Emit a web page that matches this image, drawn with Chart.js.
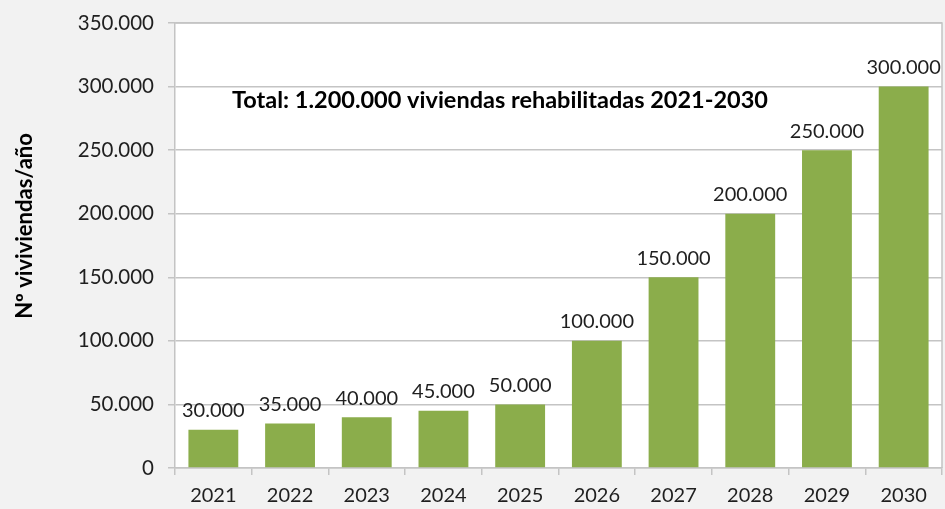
<!DOCTYPE html>
<html>
<head>
<meta charset="utf-8">
<script src="https://cdn.jsdelivr.net/npm/chart.js@4"></script>
<style>
  html, body { margin: 0; padding: 0; background: #f2f2f2; }
  #wrap { width: 945px; height: 509px; }
</style>
</head>
<body>
<div id="wrap"><canvas id="chart" width="945" height="509"></canvas></div>
<script>
// Chart data
const years = ['2021', '2022', '2023', '2024', '2025', '2026', '2027', '2028', '2029', '2030'];
const viviendas = [30000, 35000, 40000, 45000, 50000, 100000, 150000, 200000, 250000, 300000];
const yTicks = [0, 50000, 100000, 150000, 200000, 250000, 300000, 350000];
const yTitle = 'Nº viviviendas/año';
const totalNote = 'Total: 1.200.000 viviendas rehabilitadas 2021-2030';

const FONT = 'Lato, "Open Sans", sans-serif';
const GRID = '#c4c4c4';
const TEXT = '#1f1f1f';

function fmt(v) {
    return String(v).replace(/\B(?=(\d{3})+(?!\d))/g, '.');
}

// paints gray page and white plot area, plus the top/right frame
const backdrop = {
    id: 'backdrop',
    beforeDraw(chart) {
        const { ctx, chartArea: a } = chart;
        ctx.save();
        ctx.fillStyle = '#f2f2f2';
        ctx.fillRect(0, 0, chart.width, chart.height);
        ctx.fillStyle = '#ffffff';
        ctx.fillRect(a.left, a.top, a.right - a.left, a.bottom - a.top);
        ctx.restore();
    },
    afterDraw(chart) {
        const { ctx, chartArea: a } = chart;
        ctx.save();
        ctx.strokeStyle = GRID;
        ctx.lineWidth = 1.5;
        ctx.beginPath();
        ctx.moveTo(a.left, a.top);
        ctx.lineTo(a.right, a.top);
        ctx.lineTo(a.right, a.bottom);
        ctx.stroke();
        ctx.restore();
    }
};

// value labels above bars, the note and the y title
const labels = {
    id: 'labels',
    afterDatasetsDraw(chart) {
        const { ctx } = chart;
        const meta = chart.getDatasetMeta(0);
        ctx.save();
        ctx.fillStyle = TEXT;
        ctx.font = '20px ' + FONT;
        ctx.textAlign = 'center';
        ctx.textBaseline = 'bottom';
        meta.data.forEach((bar, i) => {
            ctx.fillText(fmt(viviendas[i]), bar.x, bar.y - 9);
        });

        const y = chart.scales.y;
        ctx.font = 'bold 23.5px ' + FONT;
        ctx.textBaseline = 'middle';
        ctx.fillStyle = '#000000';
        ctx.fillText(totalNote, 500, y.getPixelForValue(300000) + 14);

        ctx.translate(25, 226);
        ctx.rotate(-Math.PI / 2);
        ctx.font = 'bold 22px ' + FONT;
        ctx.fillText(yTitle, 0, 0);
        ctx.restore();
    }
};

new Chart(document.getElementById('chart'), {
    type: 'bar',
    data: {
        labels: years,
        datasets: [{
            data: viviendas,
            backgroundColor: '#8bad4b',
            barPercentage: 0.65,
            categoryPercentage: 1.0
        }]
    },
    options: {
        responsive: false,
        animation: false,
        devicePixelRatio: 1,
        layout: { padding: { top: 23, right: 3, left: 0, bottom: 0 } },
        plugins: {
            legend: { display: false },
            tooltip: { enabled: false }
        },
        scales: {
            x: {
                grid: {
                    offset: true,
                    drawOnChartArea: false,
                    color: GRID,
                    lineWidth: 1.5,
                    tickLength: 7
                },
                border: { color: GRID, width: 1.5 },
                ticks: {
                    color: TEXT,
                    font: { family: FONT, size: 20 },
                    padding: 9,
                    maxRotation: 0
                },
                afterFit(scale) {
                    scale.height = 41;
                    scale.paddingLeft = 0;
                    scale.paddingRight = 0;
                }
            },
            y: {
                min: 0,
                max: 350000,
                afterBuildTicks(scale) {
                    scale.ticks = yTicks.map(v => ({ value: v }));
                },
                grid: {
                    color: GRID,
                    lineWidth: 1.5,
                    tickLength: 7
                },
                border: { color: GRID, width: 1.5 },
                ticks: {
                    color: TEXT,
                    font: { family: FONT, size: 20.5 },
                    padding: 14,
                    callback: v => fmt(v)
                },
                afterFit(scale) {
                    scale.width = 175;
                    scale.paddingTop = 0;
                    scale.paddingBottom = 0;
                }
            }
        }
    },
    plugins: [backdrop, labels]
});
</script>
</body>
</html>
